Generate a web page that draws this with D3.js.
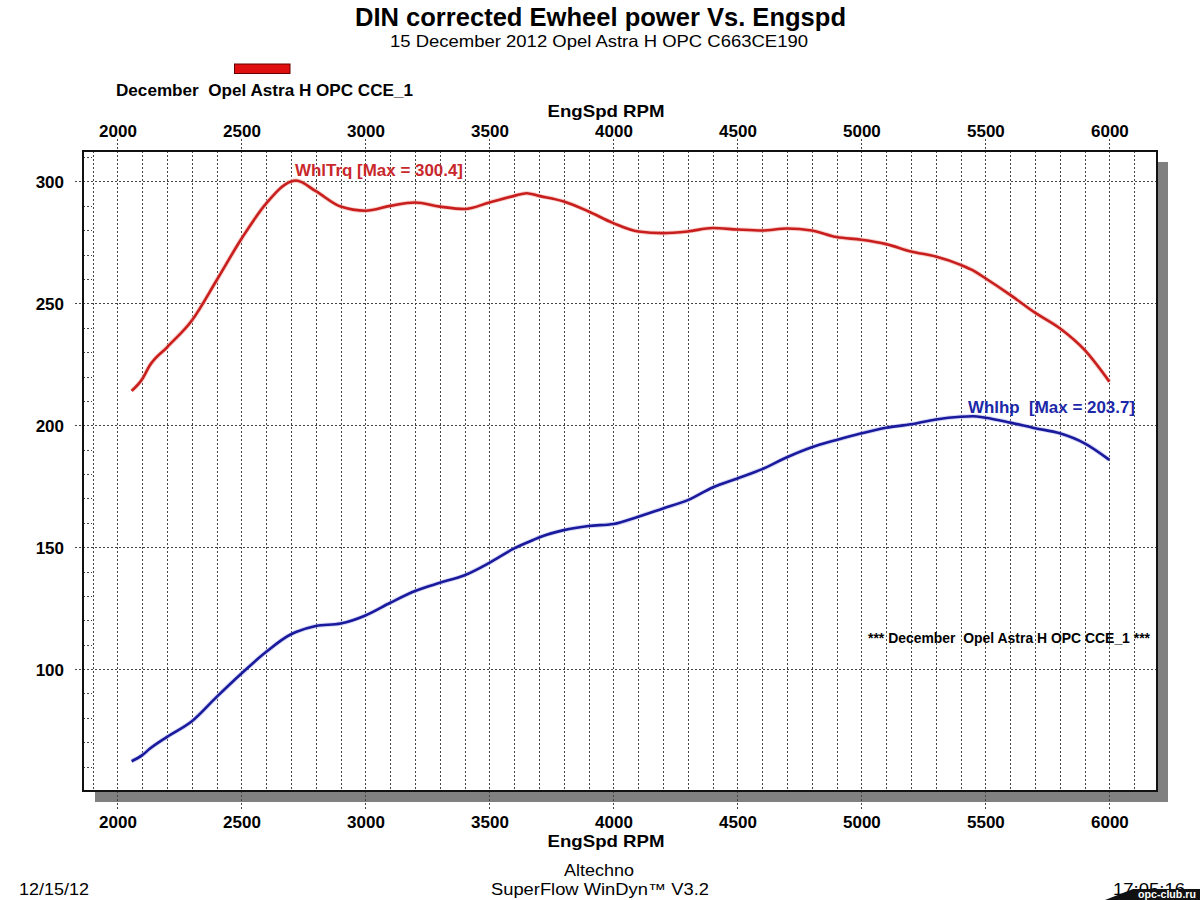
<!DOCTYPE html>
<html>
<head>
<meta charset="utf-8">
<script src="https://cdn.jsdelivr.net/npm/d3@7"></script>
<style>
  html, body { margin: 0; padding: 0; background: #fff; }
  svg { display: block; font-family: "Liberation Sans", Arial, sans-serif; }
  svg text { white-space: pre; }
</style>
</head>
<body>
<svg id="chart" width="1200" height="900"></svg>
<script>
// ---------------- data ----------------
const rpm    = [2057, 2100, 2130, 2200, 2300, 2400, 2500, 2600, 2700, 2720, 2800, 2900, 3000, 3100, 3200, 3300, 3400, 3500, 3600, 3650, 3700, 3800, 3900, 4000, 4100, 4200, 4300, 4400, 4500, 4600, 4700, 4800, 4900, 5000, 5100, 5200, 5300, 5400, 5450, 5500, 5600, 5700, 5800, 5900, 6000];
const whlTrq = [214.1, 219, 224.5, 232, 243, 259.5, 276.5, 291, 300, 300.4, 296, 289.7, 288, 290, 291.4, 289.7, 288.7, 291.4, 294.1, 295.2, 294.1, 291.8, 287.7, 282.9, 279.5, 278.8, 279.5, 280.9, 280.3, 279.9, 280.7, 279.9, 277.2, 276.1, 274.3, 271.3, 269.2, 265.8, 263.5, 260.3, 253.5, 246.2, 239.8, 230.9, 217.9];
const whlHp  = [62.2, 64.7, 67.3, 72.2, 78.6, 88.6, 98.2, 107.1, 114.3, 115.2, 117.7, 118.7, 122, 127.2, 132, 135.4, 138.5, 143.6, 149.5, 151.8, 154, 157, 158.7, 159.5, 162.5, 165.9, 169.3, 174.5, 178.2, 182, 186.9, 191, 194, 196.7, 199, 200.4, 202.4, 203.5, 203.7, 203.1, 201.1, 198.8, 196.7, 192.6, 185.8];
const xMajorTicks = [2000, 2500, 3000, 3500, 4000, 4500, 5000, 5500, 6000];
const xMinorTicks = d3.range(1900, 6101, 100);
const yMajorTicks = [100, 150, 200, 250, 300];
const yMinorTicks = d3.range(60, 311, 10);

const titleText    = "DIN corrected Ewheel power Vs. Engspd";
const subtitleText = "15 December 2012 Opel Astra H OPC C663CE190";
const legendText   = "December  Opel Astra H OPC CCE_1";
const xAxisTitle   = "EngSpd RPM";
const trqLabel     = "WhlTrq [Max = 300.4]";
const hpLabel      = "Whlhp  [Max = 203.7]";
const runLabel     = "*** December  Opel Astra H OPC CCE_1 ***";

// ---------------- layout ----------------
const L = 83, R = 1157, T = 151, B = 791;
const svg = d3.select("#chart");
const x = d3.scaleLinear().domain([1861, 6192]).range([L, R]);
const y = d3.scaleLinear().domain([50, 312.5]).range([B, T]);

const RED = "#c81e1e", BLUE = "#1a1a9c";

svg.append("rect").attr("width", 1200).attr("height", 900).attr("fill", "#fff");

// helper for text with fixed width
function txt(str, px, py, opts) {
  const t = svg.append("text").attr("x", px).attr("y", py).text(str)
    .attr("font-size", opts.size).attr("font-weight", opts.weight || "normal")
    .attr("fill", opts.fill || "#000").attr("text-anchor", opts.anchor || "start")
    .attr("xml:space", "preserve");
  if (opts.width) t.attr("textLength", opts.width).attr("lengthAdjust", "spacingAndGlyphs");
  return t;
}

// title
txt(titleText, 355, 26, {size: 25, weight: "bold", width: 491});
txt(subtitleText, 390, 47, {size: 16.5, width: 418});

// legend
svg.append("rect").attr("x", 234.5).attr("y", 64).attr("width", 55.5).attr("height", 9.5)
  .attr("fill", "#e01010").attr("stroke", "#600").attr("stroke-width", 1);
txt(legendText, 116, 96, {size: 17, weight: "bold", width: 297});

// shadow + plot frame
svg.append("rect").attr("x", 95).attr("y", 162).attr("width", 1168 - 95).attr("height", 802 - 162)
  .attr("fill", "#808080");
svg.append("rect").attr("x", L).attr("y", T).attr("width", R - L).attr("height", B - T)
  .attr("fill", "#fff");

const grid = svg.append("g").attr("stroke", "#444").attr("stroke-width", 1)
  .attr("stroke-dasharray", "2,2").attr("fill", "none");

// vertical grid lines every 100 rpm
grid.selectAll("line.v").data(xMinorTicks).join("line")
  .attr("x1", d => Math.round(x(d)) + 0.5).attr("x2", d => Math.round(x(d)) + 0.5)
  .attr("y1", d => xMajorTicks.includes(d) ? T - 12 : T)
  .attr("y2", d => xMajorTicks.includes(d) ? B + 20 : B);

// horizontal major grid lines
grid.selectAll("line.h").data(yMajorTicks).join("line")
  .attr("x1", L - 8).attr("x2", R)
  .attr("y1", d => Math.round(y(d)) + 0.5).attr("y2", d => Math.round(y(d)) + 0.5);

// minor y ticks at the left edge
grid.selectAll("line.m").data(yMinorTicks.filter(d => d % 50 !== 0)).join("line")
  .attr("x1", L).attr("x2", L + 9)
  .attr("y1", d => Math.round(y(d)) + 0.5).attr("y2", d => Math.round(y(d)) + 0.5);

// frame
svg.append("rect").attr("x", L).attr("y", T).attr("width", R - L).attr("height", B - T)
  .attr("fill", "none").attr("stroke", "#111").attr("stroke-width", 2);

// axes labels (through d3 axes, lines hidden)
const topAxis = svg.append("g").attr("transform", `translate(0,${T - 14})`)
  .call(d3.axisTop(x).tickValues(xMajorTicks).tickSize(0).tickPadding(0).tickFormat(d3.format("d")));
const botAxis = svg.append("g").attr("transform", `translate(0,${B + 25})`)
  .call(d3.axisBottom(x).tickValues(xMajorTicks).tickSize(0).tickPadding(0).tickFormat(d3.format("d")));
const leftAxis = svg.append("g").attr("transform", `translate(${L - 19},0)`)
  .call(d3.axisLeft(y).tickValues(yMajorTicks).tickSize(0).tickPadding(0).tickFormat(d3.format("d")));
[topAxis, botAxis, leftAxis].forEach(g => {
  g.select(".domain").remove();
  g.selectAll("text").attr("font-size", 17).attr("font-weight", "bold").attr("fill", "#000")
    .attr("font-family", "'Liberation Sans', Arial, sans-serif");
});
topAxis.selectAll("text").attr("dy", 0).attr("y", 0);
botAxis.selectAll("text").attr("dy", "0.71em").attr("y", 0);
leftAxis.selectAll("text").attr("dy", "0.36em");

txt(xAxisTitle, 606, 117, {size: 17, weight: "bold", anchor: "middle", width: 117});
txt(xAxisTitle, 606, 847, {size: 17, weight: "bold", anchor: "middle", width: 117});

// curves
const pts = rpm.map((r, i) => ({r, t: whlTrq[i], h: whlHp[i]}));
const lineT = d3.line().x(d => x(d.r)).y(d => y(d.t)).curve(d3.curveMonotoneX);
const lineH = d3.line().x(d => x(d.r)).y(d => y(d.h)).curve(d3.curveMonotoneX);
svg.append("path").datum(pts).attr("d", lineT).attr("fill", "none")
  .attr("stroke", "#f4b0a8").attr("stroke-width", 4.5).attr("opacity", 0.6);
svg.append("path").datum(pts).attr("d", lineT).attr("fill", "none")
  .attr("stroke", RED).attr("stroke-width", 2.6).attr("stroke-linejoin", "round");
svg.append("path").datum(pts).attr("d", lineH).attr("fill", "none")
  .attr("stroke", "#b0b0f0").attr("stroke-width", 4.5).attr("opacity", 0.5);
svg.append("path").datum(pts).attr("d", lineH).attr("fill", "none")
  .attr("stroke", BLUE).attr("stroke-width", 2.6).attr("stroke-linejoin", "round");

// annotations
txt(trqLabel, 295, 176, {size: 16.5, weight: "bold", fill: "#c8282c", width: 168});
txt(hpLabel, 968, 413, {size: 16.5, weight: "bold", fill: "#1c28a8", width: 167});
txt(runLabel, 868, 643, {size: 14.5, weight: "bold", width: 282});

// footer
txt("Altechno", 599, 876, {size: 16, anchor: "middle", width: 70});
txt("SuperFlow WinDyn\u2122 V3.2", 600, 895, {size: 16, anchor: "middle", width: 218});
txt("12/15/12", 19, 895, {size: 16, width: 70});
txt("17:05:16", 1113, 895, {size: 16, width: 72});

// watermark
svg.append("path").attr("d", "M1105,900 L1133,889 L1200,889 L1200,900 Z").attr("fill", "#111");
txt("opc-club.ru", 1138, 898, {size: 11.5, weight: "bold", fill: "#fff", width: 58});
</script>
</body>
</html>
